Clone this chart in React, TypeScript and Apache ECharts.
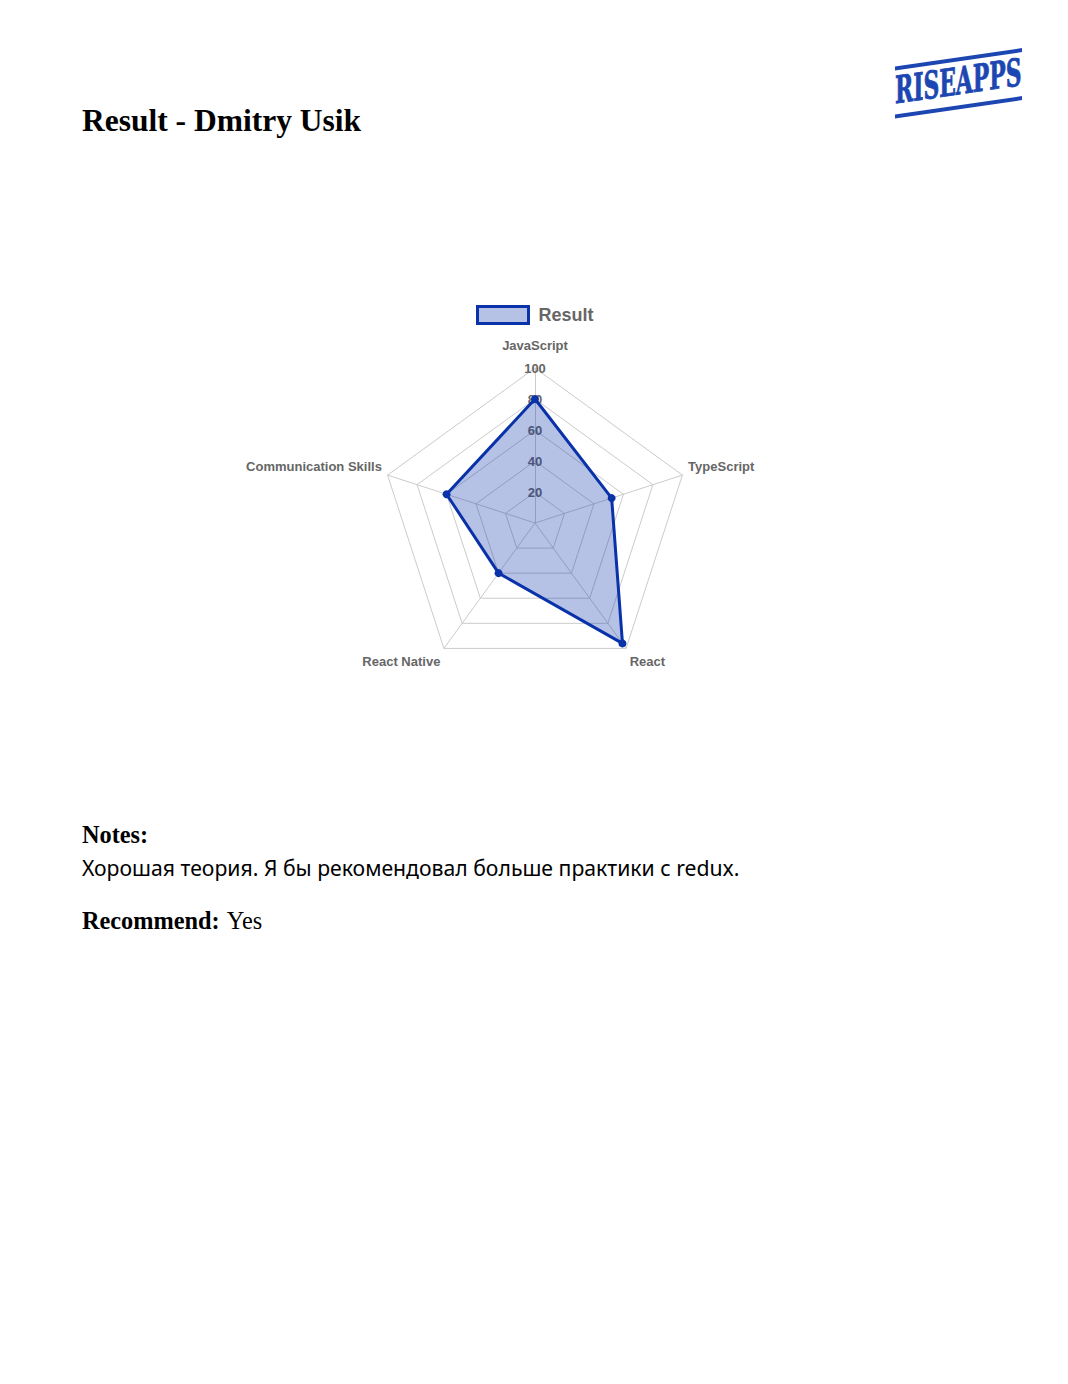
import React, { useEffect, useRef } from 'react';
import * as echarts from 'echarts';

// ---- data ----
const indicatorNames = ['JavaScript', 'Communication Skills', 'React Native', 'React', 'TypeScript'];
const resultValues = [80, 60, 40, 96, 52];
const axisMax = 100;
const seriesName = 'Result';
const titleText = 'Result - Dmitry Usik';
const notesLabel = 'Notes:';
const notesText = 'Хорошая теория. Я бы рекомендовал больше практики с redux.';
const recommendLabel = 'Recommend:';
const recommendValue = 'Yes';
const logoText = 'RISEAPPS';

const BLUE = '#0a33aa';
const LOGO_BLUE = '#1c46b2';
const GRID = '#cbcbcb';
const LABEL = '#666666';
const SANS = '"Liberation Sans", Arial, sans-serif';

// per-indicator label placement (style only)
const nameGaps = [16, 6, 6, 6, 6];
const nameRich = ['top', 'up', 'down', 'down', 'up'];

function Chart() {
  const ref = useRef<HTMLDivElement>(null);
  useEffect(() => {
    if (!ref.current) return;
    const chart = echarts.init(ref.current, null, { renderer: 'svg' });
    const indicator = indicatorNames.map((name, i) => ({
      name,
      max: axisMax,
      min: 0,
      nameGap: nameGaps[i],
      axisLabel: { show: i === 0 },
    }));
    const richBase = { color: LABEL, fontSize: 13, fontWeight: 'bold', fontFamily: SANS };
    chart.setOption({
      animation: false,
      legend: {
        left: 471,
        top: 300,
        itemWidth: 51,
        itemHeight: 17,
        selectedMode: false,
        data: [
          {
            name: seriesName,
            icon: 'rect',
            itemStyle: { color: 'rgba(10,50,170,0.3)', borderColor: BLUE, borderWidth: 3 },
          },
        ],
        textStyle: {
          color: LABEL,
          fontSize: 18,
          fontWeight: 'bold',
          fontFamily: SANS,
          padding: [0, 0, 0, 5],
        },
      },
      radar: {
        center: [535, 523],
        radius: 155,
        startAngle: 90,
        shape: 'polygon',
        splitNumber: 5,
        nameGap: 6,
        axisName: {
          color: LABEL,
          fontSize: 13,
          fontWeight: 'bold',
          fontFamily: SANS,
          formatter: (name: string) => {
            const i = indicatorNames.indexOf(name);
            return '{' + (nameRich[i] || 'top') + '|' + name + '}';
          },
          rich: {
            top: { ...richBase },
            up: { ...richBase, padding: [0, 0, 14, 0] },
            down: { ...richBase, padding: [16, 0, 0, 0] },
          },
        },
        splitLine: { lineStyle: { color: GRID, width: 1 } },
        splitArea: { show: false },
        axisLine: { lineStyle: { color: GRID, width: 1 } },
        axisTick: { show: false },
        axisLabel: {
          show: true,
          showMinLabel: false,
          color: LABEL,
          fontSize: 13,
          fontWeight: 'bold',
          fontFamily: SANS,
          margin: 0,
          align: 'center',
          verticalAlign: 'middle',
        },
        indicator,
      },
      series: [
        {
          type: 'radar',
          name: seriesName,
          symbol: 'circle',
          symbolSize: 8,
          lineStyle: { color: BLUE, width: 3 },
          itemStyle: { color: BLUE },
          areaStyle: { color: 'rgba(10,50,170,0.3)', opacity: 1 },
          data: [{ name: seriesName, value: resultValues }],
        },
      ],
      graphic: [
        {
          type: 'group',
          x: 895,
          y: 68.5,
          skewY: 0.144,
          children: [
            { type: 'rect', shape: { x: 0, y: -2, width: 127, height: 4 }, style: { fill: LOGO_BLUE } },
            {
              type: 'text',
              x: 0,
              y: 22,
              scaleX: 0.64,
              style: {
                text: logoText,
                fill: LOGO_BLUE,
                stroke: LOGO_BLUE,
                lineWidth: 0.8,
                font: 'bold 38px "DejaVu Serif Condensed", "DejaVu Serif", serif',
                verticalAlign: 'middle',
                align: 'left',
              },
            },
            { type: 'rect', shape: { x: 0, y: 46, width: 127, height: 4 }, style: { fill: LOGO_BLUE } },
          ],
        },
      ],
    });
    return () => chart.dispose();
  }, []);
  return <div ref={ref} style={{ position: 'absolute', left: 0, top: 0, width: 1068, height: 760 }} />;
}

export default function App() {
  const serif = '"Liberation Serif", "Times New Roman", serif';
  return (
    <div style={{ position: 'absolute', left: 0, top: 0, width: 1068, height: 1384, background: '#fff', overflow: 'hidden' }}>
      <Chart />
      <div
        style={{
          position: 'absolute', left: 82, top: 105, fontFamily: serif, fontWeight: 'bold',
          fontSize: 31.5, lineHeight: '32px', color: '#000', whiteSpace: 'nowrap',
        }}
      >
        {titleText}
      </div>
      <div
        style={{
          position: 'absolute', left: 82, top: 823, fontFamily: serif, fontWeight: 'bold',
          fontSize: 24.3, lineHeight: '24px', color: '#000', whiteSpace: 'nowrap',
        }}
      >
        {notesLabel}
      </div>
      <div
        style={{
          position: 'absolute', left: 82, top: 857, fontFamily: '"Noto Sans", "Open Sans", sans-serif',
          fontSize: 21.2, lineHeight: '21px', color: '#000', whiteSpace: 'nowrap',
        }}
      >
        {notesText}
      </div>
      <div
        style={{
          position: 'absolute', left: 82, top: 909, fontFamily: serif,
          fontSize: 24.3, lineHeight: '24px', color: '#000', whiteSpace: 'nowrap',
        }}
      >
        <b>{recommendLabel}</b>
        <span style={{ marginLeft: 2 }}> {recommendValue}</span>
      </div>
    </div>
  );
}
